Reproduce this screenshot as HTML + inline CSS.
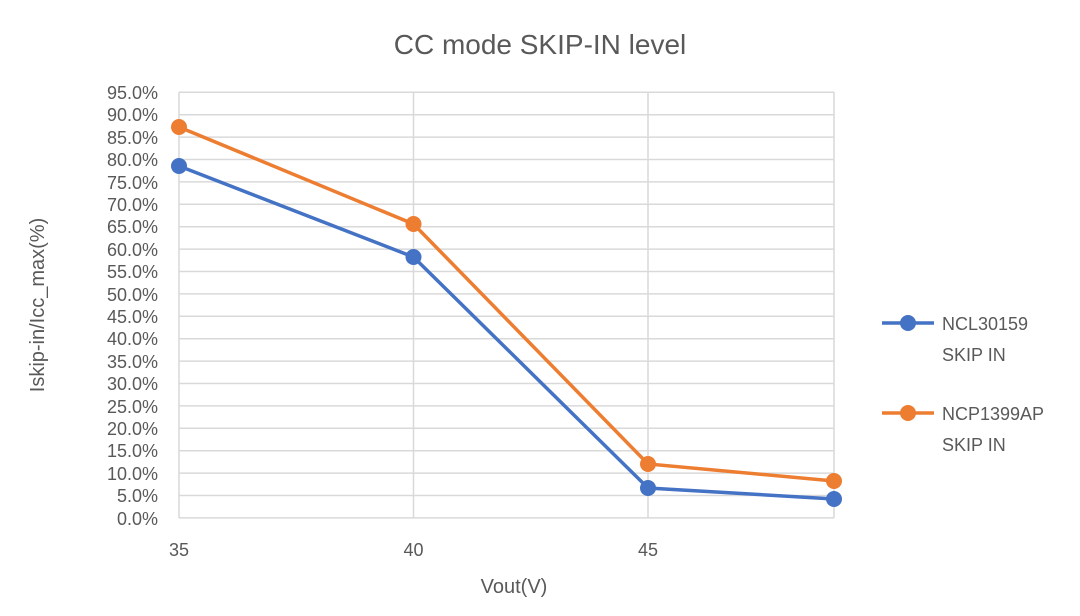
<!DOCTYPE html>
<html><head><meta charset="utf-8"><style>
body{margin:0;background:#fff;}
svg text{font-family:"Liberation Sans",sans-serif;fill:#595959;}
</style></head><body>
<svg width="1080" height="611" xmlns="http://www.w3.org/2000/svg">
<rect width="1080" height="611" fill="#fff"/>
<text x="540" y="54" font-size="28" text-anchor="middle">CC mode SKIP-IN level</text>
<g stroke="#d9d9d9" stroke-width="1.5">
<line x1="179" y1="92.3" x2="834" y2="92.3"/><line x1="179" y1="114.7" x2="834" y2="114.7"/><line x1="179" y1="137.1" x2="834" y2="137.1"/><line x1="179" y1="159.5" x2="834" y2="159.5"/><line x1="179" y1="181.9" x2="834" y2="181.9"/><line x1="179" y1="204.3" x2="834" y2="204.3"/><line x1="179" y1="226.7" x2="834" y2="226.7"/><line x1="179" y1="249.1" x2="834" y2="249.1"/><line x1="179" y1="271.5" x2="834" y2="271.5"/><line x1="179" y1="293.9" x2="834" y2="293.9"/><line x1="179" y1="316.3" x2="834" y2="316.3"/><line x1="179" y1="338.7" x2="834" y2="338.7"/><line x1="179" y1="361.1" x2="834" y2="361.1"/><line x1="179" y1="383.5" x2="834" y2="383.5"/><line x1="179" y1="405.9" x2="834" y2="405.9"/><line x1="179" y1="428.3" x2="834" y2="428.3"/><line x1="179" y1="450.7" x2="834" y2="450.7"/><line x1="179" y1="473.1" x2="834" y2="473.1"/><line x1="179" y1="495.5" x2="834" y2="495.5"/><line x1="179" y1="517.9" x2="834" y2="517.9"/>
<line x1="179" y1="92" x2="179" y2="518"/><line x1="413.5" y1="92" x2="413.5" y2="518"/><line x1="648" y1="92" x2="648" y2="518"/><line x1="834" y1="92" x2="834" y2="518"/>
</g>
<g font-size="18" text-anchor="end">
<text x="158" y="99">95.0%</text><text x="158" y="121">90.0%</text><text x="158" y="144">85.0%</text><text x="158" y="166">80.0%</text><text x="158" y="189">75.0%</text><text x="158" y="211">70.0%</text><text x="158" y="233">65.0%</text><text x="158" y="256">60.0%</text><text x="158" y="278">55.0%</text><text x="158" y="301">50.0%</text><text x="158" y="323">45.0%</text><text x="158" y="345">40.0%</text><text x="158" y="368">35.0%</text><text x="158" y="390">30.0%</text><text x="158" y="413">25.0%</text><text x="158" y="435">20.0%</text><text x="158" y="457">15.0%</text><text x="158" y="480">10.0%</text><text x="158" y="502">5.0%</text><text x="158" y="525">0.0%</text>
</g>
<g font-size="18" text-anchor="middle">
<text x="179" y="556">35</text><text x="413.5" y="556">40</text><text x="648" y="556">45</text>
</g>
<text x="514" y="593" font-size="20" text-anchor="middle">Vout(V)</text>
<text transform="translate(44,305) rotate(-90)" font-size="20" text-anchor="middle">Iskip-in/Icc_max(%)</text>
<polyline points="179,127 413.5,224 648,464 834,481" fill="none" stroke="#ed7d31" stroke-width="3.5"/>
<polyline points="179,166 413.5,257 648,488 834,499" fill="none" stroke="#4472c4" stroke-width="3.5"/>
<g fill="#ed7d31"><circle cx="179" cy="127" r="8"/><circle cx="413.5" cy="224" r="8"/><circle cx="648" cy="464" r="8"/><circle cx="834" cy="481" r="8"/></g>
<g fill="#4472c4"><circle cx="179" cy="166" r="8"/><circle cx="413.5" cy="257" r="8"/><circle cx="648" cy="488" r="8"/><circle cx="834" cy="499" r="8"/></g>
<line x1="882" y1="323" x2="934" y2="323" stroke="#4472c4" stroke-width="3.5"/><circle cx="908" cy="323" r="8" fill="#4472c4"/>
<text x="942" y="330" font-size="18">NCL30159</text><text x="942" y="361" font-size="18">SKIP IN</text>
<line x1="882" y1="413" x2="934" y2="413" stroke="#ed7d31" stroke-width="3.5"/><circle cx="908" cy="413" r="8" fill="#ed7d31"/>
<text x="942" y="420" font-size="18">NCP1399AP</text><text x="942" y="451" font-size="18">SKIP IN</text>
</svg>
</body></html>
